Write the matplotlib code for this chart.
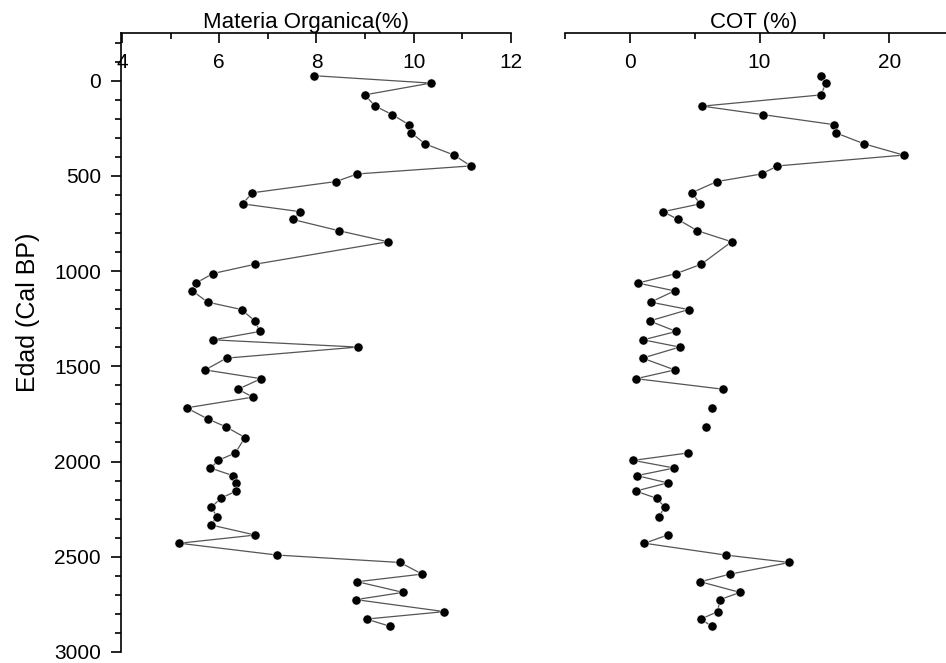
import numpy as np
import matplotlib
matplotlib.use("Agg")
import matplotlib.pyplot as plt
from matplotlib.ticker import MultipleLocator

plt.rcParams['font.family'] = ['Liberation Sans', 'DejaVu Sans']

# edad (cal BP) de cada muestra
edad = [-26, 13, 75, 134, 179, 231, 274, 332, 391, 448,
        490, 530, 589, 647, 688, 729, 788, 846, 964, 1013,
        1063, 1104, 1163, 1202, 1262, 1317, 1361, 1399, 1457, 1519,
        1565, 1620, 1662, 1718, 1776, 1818, 1874, 1955, 1994, 2034,
        2074, 2112, 2155, 2193, 2240, 2289, 2333, 2386, 2429, 2491,
        2530, 2591, 2631, 2687, 2725, 2788, 2827, 2865]

# materia organica (%)
mo = [7.94, 10.35, 8.99, 9.21, 9.56, 9.90, 9.95, 10.23, 10.83, 11.17,
      8.84, 8.40, 6.68, 6.48, 7.66, 7.51, 8.46, 9.47, 6.74, 5.87,
      5.52, 5.45, 5.76, 6.46, 6.73, 6.84, 5.87, 8.85, 6.15, 5.71,
      6.86, 6.39, 6.69, 5.33, 5.76, 6.14, 6.53, 6.33, 5.98, 5.82,
      6.28, 6.35, 6.35, 6.03, 5.84, 5.95, 5.83, 6.74, 5.18, 7.19,
      9.72, 10.17, 8.84, 9.78, 8.81, 10.63, 9.03, 9.51]

# carbono organico total (%), NaN = sin dato
cot = [14.77, 15.11, 14.75, 5.59, 10.30, 15.73, 15.88, 18.07, 21.11, 11.38,
       10.17, 6.72, 4.76, 5.43, 2.57, 3.71, 5.20, 7.85, 5.51, 3.58,
       0.62, 3.45, 1.60, 4.53, 1.52, 3.58, 1.03, 3.84, 0.98, 3.47,
       0.49, 7.15, np.nan, 6.36, np.nan, 5.84, np.nan, 4.48, 0.26, 3.42,
       0.54, 2.91, 0.46, 2.06, 2.70, 2.24, np.nan, 2.91, 1.13, 7.39,
       12.30, 7.75, 5.43, 8.49, 6.95, 6.77, 5.48, 6.31]

edad = np.array(edad)
mo = np.array(mo)
cot = np.array(cot)

W, H = 946, 663
fig = plt.figure(figsize=(W / 100, H / 100), dpi=100)

ax1 = fig.add_axes([121 / W, 11 / H, 390 / W, 619 / H])
ax2 = fig.add_axes([565 / W, 11 / H, 389 / W, 619 / H], sharey=ax1)

estilo = dict(color='#555555', lw=0.9, marker='o', ms=6.6,
              mfc='black', mec='white', mew=0.4)

ax1.plot(mo, edad, **estilo)
ax2.plot(cot, edad, **estilo)

ax1.set_ylim(3000, -250)
ax1.set_xlim(3.98, 12)
ax2.set_xlim(-5, 25)

for ax in (ax1, ax2):
    ax.xaxis.tick_top()
    ax.spines['bottom'].set_visible(False)
    ax.spines['right'].set_visible(False)
    ax.spines['top'].set_linewidth(1.2)
    ax.tick_params(axis='x', which='both', direction='in', width=1.2,
                   pad=-28, labelsize=15, bottom=False, labelbottom=False)
    ax.tick_params(axis='x', which='major', length=7.5)
    ax.tick_params(axis='x', which='minor', length=4)
    ax.xaxis.set_label_position('top')

ax1.xaxis.set_major_locator(MultipleLocator(2))
ax1.xaxis.set_minor_locator(MultipleLocator(1))
ax1.set_xticks([4, 6, 8, 10, 12])
ax2.xaxis.set_major_locator(MultipleLocator(10))
ax2.xaxis.set_minor_locator(MultipleLocator(5))

ax1.set_xlabel('Materia Organica(%)', fontsize=16, labelpad=1)
ax1.xaxis.set_label_coords(0.474, 1.0)
ax1.xaxis.label.set_va('bottom')
ax2.set_xlabel('COT (%)', fontsize=16, labelpad=1)
ax2.xaxis.set_label_coords(0.486, 1.0)
ax2.xaxis.label.set_va('bottom')

ax1.spines['left'].set_linewidth(1.2)
ax1.yaxis.set_major_locator(MultipleLocator(500))
ax1.yaxis.set_minor_locator(MultipleLocator(100))
ax1.set_yticks([0, 500, 1000, 1500, 2000, 2500, 3000])
ax1.tick_params(axis='y', which='both', direction='out', width=1.2, labelsize=15, pad=7)
ax1.tick_params(axis='y', which='major', length=7.5)
ax1.tick_params(axis='y', which='minor', length=4)
ax1.set_ylabel('Edad (Cal BP)', fontsize=18)
ax1.yaxis.set_label_coords(-0.208, 0.548)

ax2.spines['left'].set_visible(False)
ax2.tick_params(axis='y', which='both', left=False, labelleft=False)

fig.savefig('out.png', dpi=100)
